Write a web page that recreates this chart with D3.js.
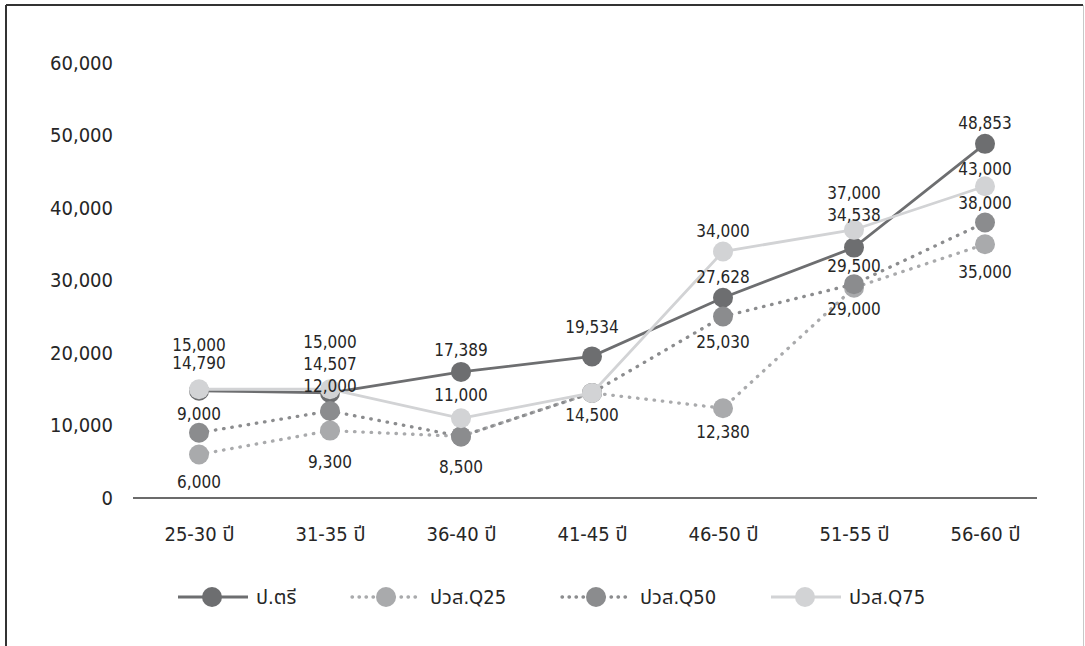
<!DOCTYPE html>
<html>
<head>
<meta charset="utf-8">
<script src="https://cdn.jsdelivr.net/npm/d3@7"></script>
<style>
  body { margin: 0; background: #fff; }
  svg text { font-family: "DejaVu Sans Condensed", "DejaVu Sans", "Noto Sans Thai", Loma, Tahoma, sans-serif; font-stretch: condensed; fill: #262626; }
</style>
</head>
<body>
<svg id="chart" width="1085" height="646"></svg>
<script>
// data
const categories = ["25-30 ปี", "31-35 ปี", "36-40 ปี", "41-45 ปี", "46-50 ปี", "51-55 ปี", "56-60 ปี"];
const bachelor = [14790, 14507, 17389, 19534, 27628, 34538, 48853];
const vocQ25 = [6000, 9300, 8500, 14500, 12380, 29000, 35000];
const vocQ50 = [9000, 12000, 8500, 14500, 25030, 29500, 38000];
const vocQ75 = [15000, 15000, 11000, 14500, 34000, 37000, 43000];
const seriesNames = ["ป.ตรี", "ปวส.Q25", "ปวส.Q50", "ปวส.Q75"];
const yTicks = [0, 10000, 20000, 30000, 40000, 50000, 60000];

// label nudges (px, relative to the point) - labels were moved by hand in the original
const labelDy = [
  [-28, -29, -22, -29, -21, -33, -21],
  [27, 31, 31, 22, 24, 21, 28],
  [-19, -25, 31, 22, 25, -18, -20],
  [-44, -47, -23, 22, -21, -37, -17]
];

const styles = [
  {color: "#6d6e70", dash: null},
  {color: "#a9aaac", dash: "0.5 7.8"},
  {color: "#8b8c8e", dash: "0.5 7.8"},
  {color: "#d2d3d5", dash: null}
];

const series = [bachelor, vocQ25, vocQ50, vocQ75].map((vals, i) => ({
  name: seriesNames[i],
  values: vals.map((v, j) => ({cat: categories[j], value: v, dy: labelDy[i][j]})),
  style: styles[i]
}));

const svg = d3.select("#chart");

// frame
svg.append("line").attr("x1", 6).attr("x2", 1083).attr("y1", 5).attr("y2", 5)
  .attr("stroke", "#333").attr("stroke-width", 2);
svg.append("line").attr("x1", 6).attr("x2", 6).attr("y1", 5).attr("y2", 646)
  .attr("stroke", "#333").attr("stroke-width", 2);
svg.append("line").attr("x1", 1083.5).attr("x2", 1083.5).attr("y1", 5).attr("y2", 646)
  .attr("stroke", "#c8c8c8").attr("stroke-width", 1);

const xScale = d3.scalePoint().domain(categories).range([199, 985]);
const yScale = d3.scaleLinear().domain([0, 60000]).range([498, 63]);

// y axis
const yAxisG = svg.append("g")
  .attr("transform", "translate(120,0)")
  .call(d3.axisLeft(yScale).tickValues(yTicks).tickSize(0).tickPadding(7).tickFormat(d3.format(",")));
yAxisG.select(".domain").remove();
yAxisG.selectAll("text").style("font-size", "20px");

// x axis
const xAxisG = svg.append("g")
  .attr("transform", "translate(0,498)")
  .call(d3.axisBottom(xScale).tickSize(0).tickPadding(29));
xAxisG.select(".domain").remove();
xAxisG.selectAll("text").style("font-size", "20px");

svg.append("line")
  .attr("x1", 133).attr("x2", 1037).attr("y1", 498).attr("y2", 498)
  .attr("stroke", "#6b6b6b").attr("stroke-width", 2);

const line = d3.line()
  .x(d => xScale(d.cat))
  .y(d => yScale(d.value));

// lines and markers
series.forEach(s => {
  const g = svg.append("g");
  g.append("path")
    .datum(s.values)
    .attr("d", line)
    .attr("fill", "none")
    .attr("stroke", s.style.color)
    .attr("stroke-width", s.style.dash ? 3.3 : 2.8)
    .attr("stroke-linecap", s.style.dash ? "round" : "butt")
    .attr("stroke-dasharray", s.style.dash);
  g.selectAll("circle")
    .data(s.values)
    .join("circle")
    .attr("cx", d => xScale(d.cat))
    .attr("cy", d => yScale(d.value))
    .attr("r", 10)
    .attr("fill", s.style.color);
});

// data labels (skip exact duplicates that sit on the same spot)
const seen = new Set();
const labelG = svg.append("g");
series.forEach(s => {
  s.values.forEach(d => {
    const txt = d3.format(",")(d.value);
    const x = xScale(d.cat);
    const y = Math.round(yScale(d.value) + d.dy);
    const key = txt + "|" + x + "|" + y;
    if (seen.has(key)) return;
    seen.add(key);
    labelG.append("text")
      .attr("x", x)
      .attr("y", y)
      .attr("text-anchor", "middle")
      .attr("dominant-baseline", "central")
      .style("font-size", "17px")
      .text(txt);
  });
});

// legend
const legendX = [212, 386, 596, 805];
const legendY = 597;
const legend = svg.append("g");
series.forEach((s, i) => {
  const cx = legendX[i];
  legend.append("line")
    .attr("x1", cx - 34).attr("x2", cx + 36)
    .attr("y1", legendY).attr("y2", legendY)
    .attr("stroke", s.style.color)
    .attr("stroke-width", s.style.dash ? 3.3 : 2.8)
    .attr("stroke-linecap", s.style.dash ? "round" : "butt")
    .attr("stroke-dasharray", s.style.dash ? "0.5 6.5" : null);
  legend.append("circle")
    .attr("cx", cx).attr("cy", legendY).attr("r", 10)
    .attr("fill", s.style.color);
  legend.append("text")
    .attr("x", cx + 44)
    .attr("y", legendY)
    .attr("dominant-baseline", "central")
    .style("font-size", "20px")
    .text(s.name);
});
</script>
</body>
</html>
